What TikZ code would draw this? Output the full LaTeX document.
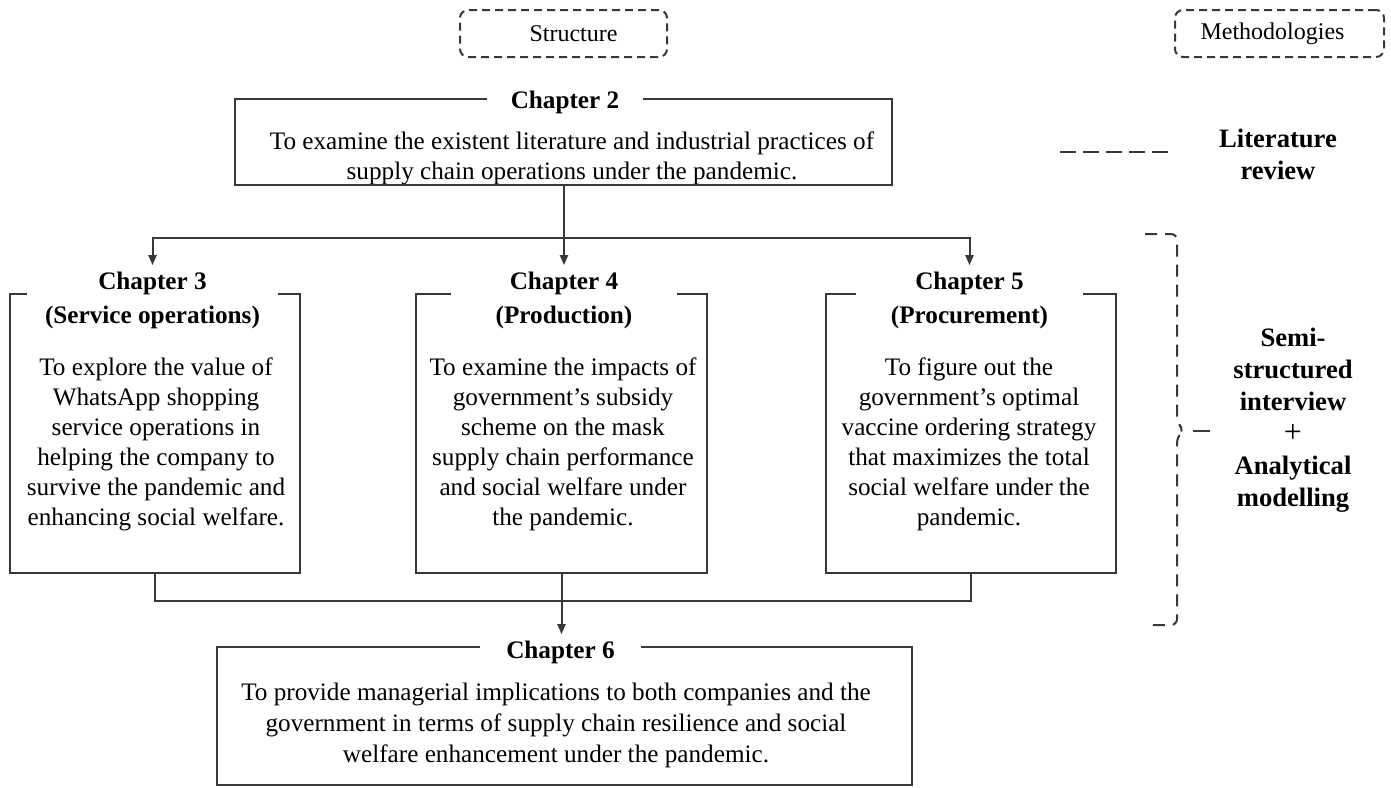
\documentclass[tikz,border=0pt]{standalone}
\usepackage{fontspec}
\setmainfont{Liberation Serif}
\usetikzlibrary{arrows.meta}

\tikzset{
  frame/.style={draw=black!78, line width=1pt},
  arrow/.style={frame, -{Triangle[length=5pt,width=4pt]}},
  area/.style={inner sep=0pt},
  body/.style={align=center, inner sep=0pt, font=\fontsize{12.6}{15}\selectfont},
  chaptitle/.style={align=center, inner xsep=0pt, inner ysep=3pt, minimum width=#1,
    font=\fontsize{12.6}{17}\selectfont\bfseries},
  tag/.style={draw=black!78, line width=1pt, dash pattern=on 4pt off 2.5pt,
    rounded corners=4pt, minimum height=23.5pt, font=\fontsize{12}{14}\selectfont},
  method/.style={align=center, inner sep=0pt, font=\fontsize{13.3}{16}\selectfont\bfseries},
  link/.style={draw=black!78, line width=1pt, dash pattern=on 8pt off 3.5pt}
}

\begin{document}
\begin{tikzpicture}[x=0.5pt,y=-0.5pt]
\useasboundingbox (0,0) rectangle (1391,787);

% headings
\node[tag, minimum width=103.5pt] (struct) at (563.5,33.5) {\hspace*{10pt}Structure};
\node[tag, minimum width=104.5pt] (meth) at (1279.5,33.5) {Methodologies\hspace*{7pt}};

% chapter 2
\node[area, minimum width=328.5pt, minimum height=43pt] (b2) at (563.5,142) {};
\node[chaptitle=78pt] (t2) at (565,102) {Chapter 2};
\node[body] (x2) at (572,158) {To examine the existent literature and industrial practices of\\
supply chain operations under the pandemic.};
\draw[frame] (t2.east |- b2.north) -| (b2.south east) -| (b2.north west) -- (t2.west |- b2.north);

% chapters 3, 4, 5
\node[area, minimum width=145pt, minimum height=139.5pt] (b3) at (155,433.5) {};
\node[chaptitle=125.5pt] (t3) at (152.5,300) {Chapter 3\\(Service operations)};
\node[body] (x3) at (156,444.5) {To explore the value of\\WhatsApp shopping\\service operations in\\
helping the company to\\survive the pandemic and\\enhancing social welfare.};
\draw[frame] (t3.east |- b3.north) -| (b3.south east) -| (b3.north west) -- (t3.west |- b3.north);

\node[area, minimum width=145.5pt, minimum height=139.5pt] (b4) at (561.5,433.5) {};
\node[chaptitle=113pt] (t4) at (564,300) {Chapter 4\\(Production)};
\node[body] (x4) at (563,444.5) {To examine the impacts of\\government's subsidy\\scheme on the mask\\
supply chain performance\\and social welfare under\\the pandemic.};
\draw[frame] (t4.east |- b4.north) -| (b4.south east) -| (b4.north west) -- (t4.west |- b4.north);

\node[area, minimum width=145pt, minimum height=139.5pt] (b5) at (971,433.5) {};
\node[chaptitle=113.5pt] (t5) at (969.5,300) {Chapter 5\\(Procurement)};
\node[body] (x5) at (969,444.5) {To figure out the\\government's optimal\\vaccine ordering strategy\\
that maximizes the total\\social welfare under the\\pandemic.};
\draw[frame] (t5.east |- b5.north) -| (b5.south east) -| (b5.north west) -- (t5.west |- b5.north);

% chapter 6
\node[area, minimum width=347.5pt, minimum height=69pt] (b6) at (564.5,716) {};
\node[chaptitle=80.5pt] (t6) at (560.5,652) {Chapter 6};
\node[body, font=\fontsize{12.6}{15.5}\selectfont] (x6) at (556,725) {To provide managerial implications to both companies and the\\
government in terms of supply chain resilience and social\\welfare enhancement under the pandemic.};
\draw[frame] (t6.east |- b6.north) -| (b6.south east) -| (b6.north west) -- (t6.west |- b6.north);

% flow
\coordinate (split) at (564,238);
\coordinate (merge) at (561.5,601);
\draw[arrow] (b2.south -| t4) -- (t4.north);
\draw[arrow] (split) -| (t3.north);
\draw[arrow] (split) -| (t5.north);
\draw[frame] (b3.south) |- (merge) -| (b5.south);
\draw[arrow] (b4.south) -- (b4.south |- t6.north);

% methodologies
\node[method] (lit) at (1278,154) {Literature\\review};
\coordinate (litend) at (1060,152);
\draw[link] (litend) -- (1170,152);
\node[method] (semi) at (1293,420) {Semi-\\structured\\interview\\{\mdseries\fontsize{16}{16}\selectfont +}\\Analytical\\modelling};
\draw[frame, dash pattern=on 6pt off 4pt, rounded corners=3pt]
  (1145,234) -- (1177,234) -- (1177,423) -- (1184,430) -- (1177,437) -- (1177,625) -- (1145,625);
\coordinate (braceend) at (1193,431);
\draw[frame] (braceend) -- (1210,431);
\end{tikzpicture}
\end{document}
